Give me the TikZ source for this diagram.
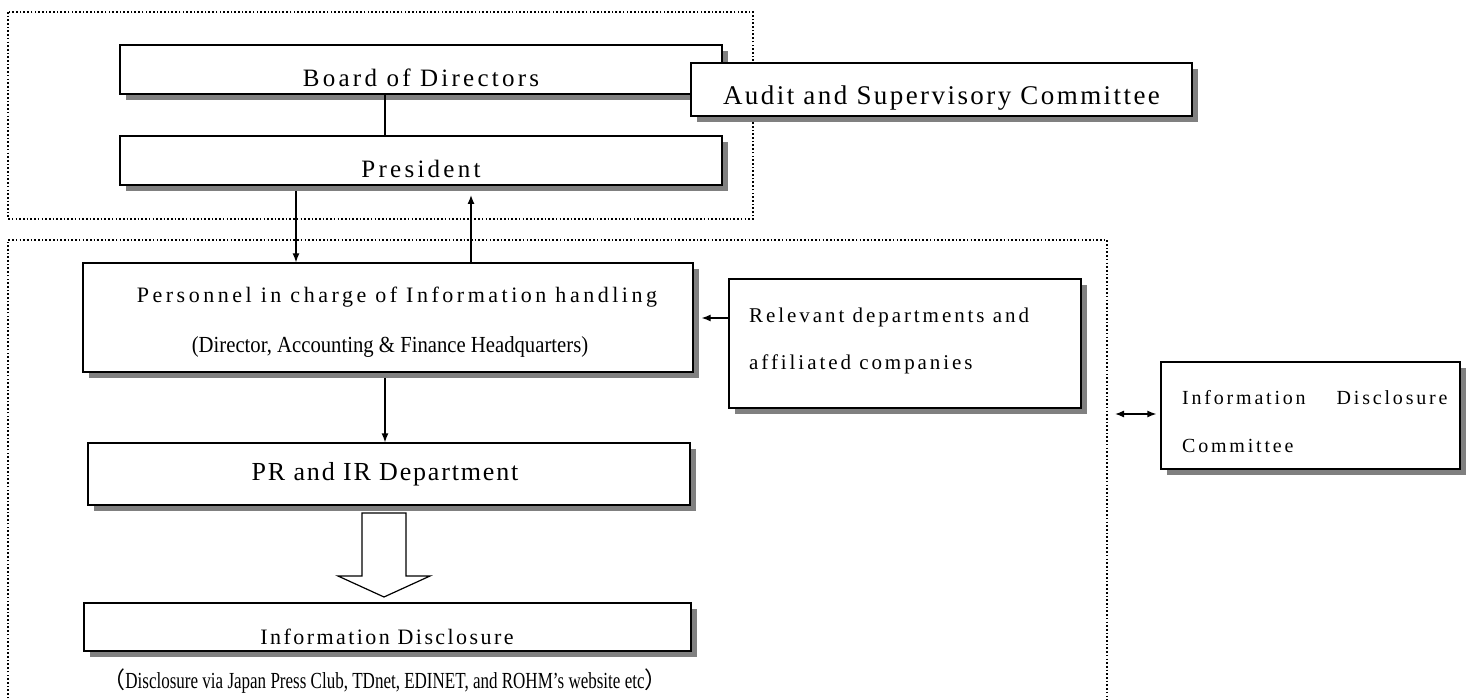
\documentclass[tikz,border=0pt]{standalone}
\usepackage{fontspec}
\setmainfont{Liberation Serif}
\newfontfamily\fBoard[LetterSpace=13]{Liberation Serif}
\newfontfamily\fAudit[LetterSpace=9]{Liberation Serif}
\newfontfamily\fPers[LetterSpace=16]{Liberation Serif}
\newfontfamily\fDir[FakeStretch=0.9]{Liberation Serif}
\newfontfamily\fRel[LetterSpace=14]{Liberation Serif}
\newfontfamily\fPR[LetterSpace=7]{Liberation Serif}
\newfontfamily\fInfo[LetterSpace=11]{Liberation Serif}
\newfontfamily\fCap[FakeStretch=0.74]{Liberation Serif}
\newfontfamily\cjkf{Noto Sans CJK JP}
\usetikzlibrary{shadows,arrows.meta}
\definecolor{shadowgray}{RGB}{128,128,128}
\tikzset{
  sbox/.style={draw, line width=1.3pt, fill=white, inner sep=0pt,
    drop shadow={shadow xshift=6pt, shadow yshift=-6pt, fill=shadowgray, opacity=1}},
  dotbox/.style={line width=1.6pt, dash pattern=on 1.6pt off 2.1pt},
  conn/.style={line width=1.3pt},
  arr/.style={conn, -{Latex[length=9pt,width=7pt]}},
  darr/.style={conn, {Latex[length=9pt,width=7pt]}-{Latex[length=9pt,width=7pt]}},
  txt/.style={inner sep=0pt, anchor=base},
  ltxt/.style={inner sep=0pt, anchor=base west},
}
\begin{document}
\begin{tikzpicture}[x=1pt,y=-1pt]
\useasboundingbox (0,0) rectangle (1467,700);
% dotted groups
\draw[dotbox] (8,12) rectangle (753,219);
\draw[dotbox] (8,702) |- (1107,240) -- (1107,702);
% boxes
\node[sbox, minimum width=602pt, minimum height=49pt] (board) at (421,69.5) {};
\node[sbox, minimum width=602pt, minimum height=49pt] (pres) at (421,160.5) {};
\node[sbox, minimum width=501pt, minimum height=53pt] (audit) at (941.5,89.5) {};
\node[sbox, minimum width=610pt, minimum height=109pt] (pers) at (388,317.5) {};
\node[sbox, minimum width=352pt, minimum height=129pt] (rel) at (905,343.5) {};
\node[sbox, minimum width=602pt, minimum height=62pt] (pr) at (389,474) {};
\node[sbox, minimum width=607pt, minimum height=48pt] (info) at (387.5,627) {};
\node[sbox, minimum width=299pt, minimum height=107pt] (idc) at (1310.5,415.5) {};
% texts
\node[txt] (tboard) at (421,87) {\fontsize{25}{30}\fBoard Board of Directors};
\node[txt] (tpres) at (421,178) {\fontsize{25}{30}\fBoard President};
\node[txt] (taudit) at (941.5,105) {\fontsize{27}{32}\fAudit Audit and Supervisory Committee};
\node[txt] (tpers1) at (397,303) {\fontsize{22}{26}\fPers Personnel in charge of Information handling};
\node[txt] (tpers2) at (390,353) {\fontsize{23}{26}\fDir (Director, Accounting \& Finance Headquarters)};
\node[ltxt] (trel1) at (749,323) {\fontsize{21}{25}\fRel Relevant departments and};
\node[ltxt] (trel2) at (749,370) {\fontsize{21}{25}\fRel affiliated companies};
\node[ltxt] (tidc1) at (1182,404) {\fontsize{20}{24}\fRel Information\hspace{31pt}Disclosure};
\node[ltxt] (tidc2) at (1182,452) {\fontsize{20}{24}\fRel Committee};
\node[txt] (tpr) at (385,480) {\fontsize{26}{30}\fPR PR and IR Department};
\node[txt] (tinfo) at (387,644) {\fontsize{22}{26}\fInfo Information Disclosure};
\node[txt] (tcap) at (385,688) {\fontsize{23}{26}\selectfont{\cjkf （}\fCap Disclosure via Japan Press Club, TDnet, EDINET, and ROHM’s website etc{\cjkf ）}};
% connectors
\coordinate (bp) at (385,94);
\draw[conn] (bp) -- (bp |- pres.north);
\coordinate (d1) at (296,191);
\draw[arr] (d1) -- (d1 |- pers.north);
\coordinate (u1) at (471,195);
\draw[arr] (u1 |- pers.north) -- (u1);
\coordinate (ra) at (729,318);
\draw[arr, shorten >=8pt] (ra) -- (ra -| pers.east);
\coordinate (pp) at (385,378);
\draw[arr] (pp) -- (pp |- pr.north);
\coordinate (da) at (1115,414);
\draw[darr, shorten >=4pt] (da) -- (da -| idc.west);
% hollow arrow
\draw[line width=1.2pt, fill=white] (362,513) -- (406,513) -- (406,576) -- (430,576) -- (384,597) -- (338,576) -- (362,576) -- cycle;
\end{tikzpicture}
\end{document}
